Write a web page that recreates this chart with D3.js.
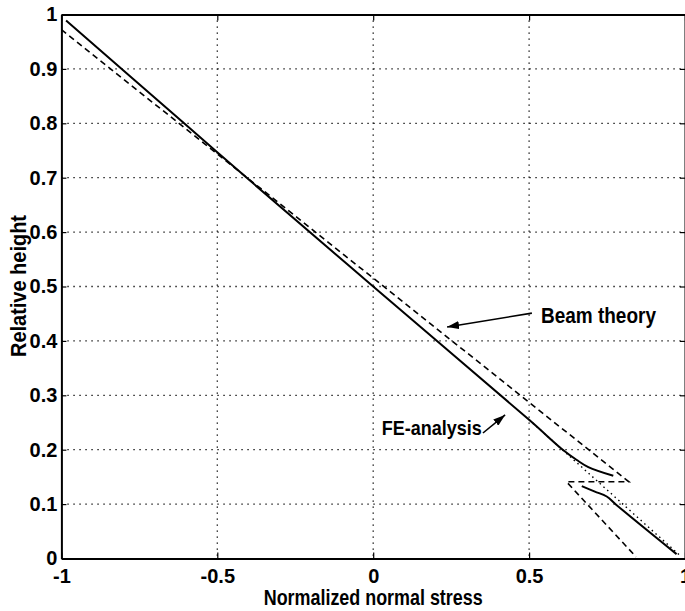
<!DOCTYPE html>
<html>
<head>
<meta charset="utf-8">
<script src="https://cdn.jsdelivr.net/npm/d3@7"></script>
<style>
  body { margin: 0; background: #fff; }
  svg text { font-family: "Liberation Sans", Arial, sans-serif; font-weight: bold; fill: #000; }
</style>
</head>
<body>
<div id="chart"></div>
<script>
// values
var xTicks = [-1, -0.5, 0, 0.5, 1]
var xTickLabels = ['-1', '-0.5', '0', '0.5', '1']
var yTicks = [0, 0.1, 0.2, 0.3, 0.4, 0.5, 0.6, 0.7, 0.8, 0.9, 1]
var yTickLabels = ['0', '0.1', '0.2', '0.3', '0.4', '0.5', '0.6', '0.7', '0.8', '0.9', '1']

// FE-analysis (solid), upper part above the notch
var feUpper = [[-0.985, 0.989], [-0.6, 0.797], [-0.4, 0.697], [0, 0.5], [0.5, 0.255],
               [0.61, 0.199], [0.653, 0.181], [0.69, 0.168], [0.77, 0.152]]
// FE-analysis (solid), part below the notch
var feLower = [[0.669, 0.133], [0.711, 0.123], [0.749, 0.114], [0.781, 0.098], [0.973, 0.008]]
// beam theory (dashed), with the notch step
var beam = [[-1, 0.972], [0.82, 0.141], [0.62, 0.141], [0.843, 0.003]]
// unnotched line (dotted)
var plain = [[0.5, 0.255], [0.985, 0.005]]

// annotations, in data units
var beamLabel = { text: 'Beam theory', x: 0.538, y: 0.433, from: [0.509, 0.451], to: [0.237, 0.4256] }
var feLabel = { text: 'FE-analysis', x: 0.348, y: 0.227, from: [0.352, 0.2307], to: [0.423, 0.2638] }

var W = 685, H = 611
var margin = { top: 14.5, right: 0, bottom: 52.5, left: 61.4 }
var width = W - margin.left - margin.right,
    height = H - margin.top - margin.bottom

var svg = d3.select('#chart').append('svg')
    .attr('width', W).attr('height', H)

var g = svg.append('g')
    .attr('transform', 'translate(' + margin.left + ',' + margin.top + ')')

var x = d3.scaleLinear().domain([-1, 1]).range([0, width])
var y = d3.scaleLinear().domain([0, 1]).range([height, 0])

var defs = svg.append('defs')
defs.append('marker')
    .attr('id', 'head')
    .attr('viewBox', '0 0 12 8')
    .attr('refX', 12).attr('refY', 4)
    .attr('markerWidth', 12).attr('markerHeight', 8)
    .attr('markerUnits', 'userSpaceOnUse')
    .attr('orient', 'auto')
  .append('path')
    .attr('d', 'M0,0 L12,4 L0,8 Z')
    .attr('fill', '#000')

// grid
g.append('g').selectAll('line').data(yTicks.slice(1, -1))
  .enter().append('line')
    .attr('x1', 0).attr('x2', width)
    .attr('y1', d => y(d)).attr('y2', d => y(d))
    .attr('stroke', '#000').attr('stroke-width', 1.3)
    .attr('stroke-dasharray', '1.3,4.7')
g.append('g').selectAll('line').data(xTicks.slice(1, -1))
  .enter().append('line')
    .attr('x1', d => x(d)).attr('x2', d => x(d))
    .attr('y1', 0).attr('y2', height)
    .attr('stroke', '#000').attr('stroke-width', 1.3)
    .attr('stroke-dasharray', '1.3,4.7')

// axes (ticks inside, matlab style)
var xAxis = d3.axisBottom(x).tickValues(xTicks).tickSizeInner(-6).tickSizeOuter(0)
    .tickPadding(12).tickFormat((d, i) => xTickLabels[i])
var yAxis = d3.axisLeft(y).tickValues(yTicks).tickSizeInner(-5).tickSizeOuter(0)
    .tickPadding(4).tickFormat((d, i) => yTickLabels[i])

var gx = g.append('g').attr('transform', 'translate(0,' + height + ')').call(xAxis)
var gy = g.append('g').call(yAxis)
var gxTop = g.append('g').call(d3.axisTop(x).tickValues(xTicks).tickSizeInner(-6).tickSizeOuter(0).tickFormat(''))
var gyRight = g.append('g').attr('transform', 'translate(' + width + ',0)')
    .call(d3.axisRight(y).tickValues(yTicks).tickSizeInner(-5).tickSizeOuter(0).tickFormat(''))

;[gx, gy, gxTop, gyRight].forEach(function(a) {
  a.select('.domain').attr('stroke', '#000').attr('stroke-width', 2)
  a.selectAll('.tick line').attr('stroke', '#000').attr('stroke-width', 1.2)
})
gx.selectAll('.tick text').attr('font-size', 20).attr('dy', '0.6em')
gy.selectAll('.tick text').attr('font-size', 20)

// series
var line = d3.line().x(d => x(d[0])).y(d => y(d[1]))
var smooth = d3.line().x(d => x(d[0])).y(d => y(d[1])).curve(d3.curveCatmullRom)

g.append('path').datum(plain)
    .attr('d', line).attr('fill', 'none')
    .attr('stroke', '#000').attr('stroke-width', 1.4)
    .attr('stroke-dasharray', '1.5,3.5')

g.append('path').datum(beam)
    .attr('d', line).attr('fill', 'none')
    .attr('stroke', '#000').attr('stroke-width', 1.6)
    .attr('stroke-dasharray', '6,4')

;[feUpper, feLower].forEach(function(s) {
  g.append('path').datum(s)
      .attr('d', smooth).attr('fill', 'none')
      .attr('stroke', '#000').attr('stroke-width', 2)
})

// annotations
;[beamLabel, feLabel].forEach(function(a) {
  g.append('line')
      .attr('x1', x(a.from[0])).attr('y1', y(a.from[1]))
      .attr('x2', x(a.to[0])).attr('y2', y(a.to[1]))
      .attr('stroke', '#000').attr('stroke-width', 1.6)
      .attr('marker-end', 'url(#head)')
})
g.append('text')
    .attr('x', x(beamLabel.x)).attr('y', y(beamLabel.y))
    .attr('font-size', 22)
    .attr('textLength', 115).attr('lengthAdjust', 'spacingAndGlyphs')
    .text(beamLabel.text)
g.append('text')
    .attr('x', x(feLabel.x) - 100).attr('y', y(feLabel.y))
    .attr('font-size', 21)
    .attr('textLength', 100).attr('lengthAdjust', 'spacingAndGlyphs')
    .text(feLabel.text)

// axis titles
svg.append('text')
    .attr('x', margin.left + x(0)).attr('y', 605)
    .attr('text-anchor', 'middle')
    .attr('font-size', 22)
    .attr('textLength', 219).attr('lengthAdjust', 'spacingAndGlyphs')
    .text('Normalized normal stress')
svg.append('text')
    .attr('transform', 'translate(26,286) rotate(-90)')
    .attr('text-anchor', 'middle')
    .attr('font-size', 22)
    .attr('textLength', 142).attr('lengthAdjust', 'spacingAndGlyphs')
    .text('Relative height')
</script>
</body>
</html>
